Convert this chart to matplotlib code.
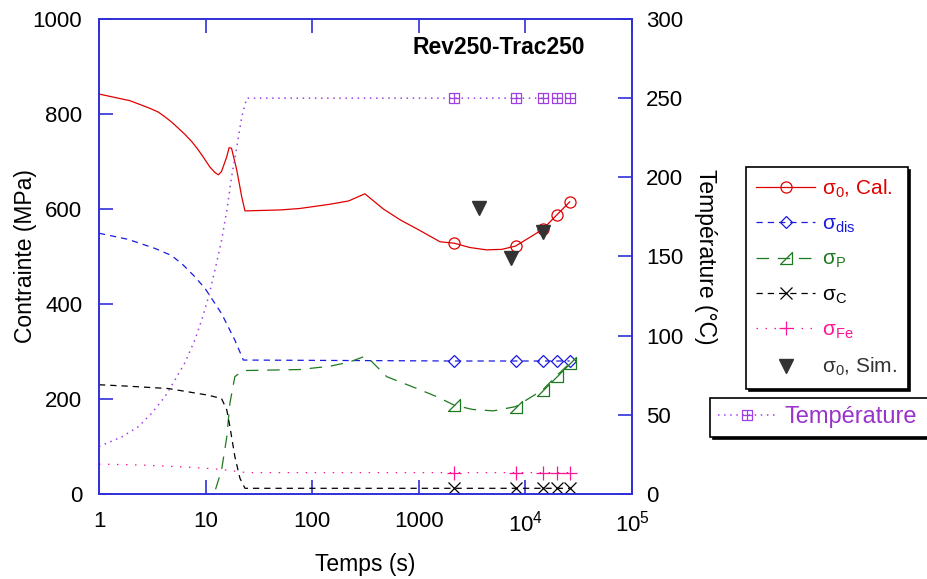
import numpy as np
import matplotlib.pyplot as plt
from matplotlib.path import Path
from matplotlib.ticker import FixedLocator, FixedFormatter

plt.rcParams['font.family'] = ['Liberation Sans', 'DejaVu Sans']
plt.rcParams['mathtext.fontset'] = 'custom'
plt.rcParams['mathtext.rm'] = 'Liberation Sans'
plt.rcParams['mathtext.it'] = 'Liberation Sans'

# temps des marqueurs
t_mk = [2150, 8100, 14500, 19600, 26000]

# sigma_0 calcule
t_cal = [1, 1.95, 3.0, 3.6, 4.16, 4.8, 5.55, 6.4, 7.4, 8.3, 9.2, 11.0, 12.2, 13.2, 14.1, 15.8, 16.6, 17.5,
         19.6, 21.8, 23.4, 50, 76, 147, 220, 312, 465, 670, 1000, 1580, 2150, 3000, 4300, 6000, 8100,
         14500, 19600, 26000]
s_cal = [842, 828, 812, 804, 794, 783, 770, 757, 742, 728, 714, 688, 677, 672, 679, 710, 729, 728,
         682, 626, 596, 598, 601, 610, 617, 632, 600, 577, 556, 531, 528, 519, 514, 515, 522,
         557, 587, 615]

# sigma_dis
t_dis = [1, 1.88, 3.35, 4.8, 6.17, 7.8, 9.87, 14.1, 18.8, 22.6] + t_mk
s_dis = [549, 536, 517, 502, 482, 459, 433, 380, 324, 282, 280, 280, 280, 280, 280]

# sigma_P
t_p = [12.4, 14.1, 15.8, 16.9, 18.8, 21.8, 24.3, 76, 147, 225, 312, 350, 500, 960, 1470,
       2150, 3200, 5000, 8100, 14500, 19600, 26000]
s_p = [10, 50, 120, 191, 247, 258, 260, 262, 269, 278, 290, 282, 247, 222, 205,
       187, 178, 175, 184, 219, 249, 275]

# sigma_C
t_c = [1, 1.88, 4.47, 10.6, 14.1, 15.8, 16.9, 18.8, 21, 23.4] + t_mk
s_c = [230, 227, 222, 208, 201, 177, 142, 79, 33, 12, 12, 12, 12, 12, 12]

# sigma_Fe
t_fe = [1, 2.5, 7.65, 13.6, 24.3] + t_mk
s_fe = [63, 61, 56, 52, 45, 45, 45, 45, 45, 45]

# sigma_0 simule
t_sim = [3660, 7300, 14600]
s_sim = [602, 497, 552]

# temperature
t_T = [1, 1.63, 2.34, 3.12, 4.16, 5.16, 6.4, 7.9, 9.2, 10.6, 12.1, 14.1, 15.8, 17.5, 19.6, 21.8, 24.3] + t_mk
T = [30, 36, 42.5, 51, 61.5, 72, 83, 97, 110, 124, 140, 160, 179, 200, 219, 238, 250,
     250, 250, 250, 250, 250]

xticks = [1, 10, 100, 1000, 1e4, 1e5]
xlabels = ['1', '10', '100', '1000', '10$^4$', '10$^5$']

red = '#e00000'
blue = '#1a1ae0'
green = '#1e7a1e'
pink = '#ff1493'
purple = '#a040e0'
simc = '#333333'
axc = '#3030d8'

tri = Path([(-1, -1), (1, -1), (1, 1), (-1, -1)], [Path.MOVETO, Path.LINETO, Path.LINETO, Path.CLOSEPOLY])
boxplus = Path([(-1, -1), (1, -1), (1, 1), (-1, 1), (-1, -1), (0, -1), (0, 1), (-1, 0), (1, 0)],
               [Path.MOVETO, Path.LINETO, Path.LINETO, Path.LINETO, Path.LINETO,
                Path.MOVETO, Path.LINETO, Path.MOVETO, Path.LINETO])

def mk(t):
    return [t.index(m) for m in t_mk]

fig = plt.figure(figsize=(9.27, 5.79), dpi=100)
ax = fig.add_axes([0.1068, 0.1468, 0.575, 0.8204])
ax2 = ax.twinx()

lw = 0.9
h = []
h += ax.plot(t_cal, s_cal, '-', color=red, lw=lw, marker='o', ms=8, mfc='none', mew=0.9,
             markevery=mk(t_cal), label='σ$_0$, Cal.')
h += ax.plot(t_dis, s_dis, color=blue, lw=lw, ls=(0, (5, 4)), marker='D', ms=6.5, mfc='none', mew=0.9,
             markevery=mk(t_dis), label='σ$_\\mathrm{dis}$')
h += ax.plot(t_p, s_p, color=green, lw=lw, ls=(0, (10, 7)), marker=tri, ms=9, mfc='none', mew=0.9,
             markevery=mk(t_p), label='σ$_\\mathrm{P}$')
h += ax.plot(t_c, s_c, color='black', lw=lw, ls=(0, (5, 4)), marker='x', ms=8, mew=0.9,
             markevery=mk(t_c), label='σ$_\\mathrm{C}$')
h += ax.plot(t_fe, s_fe, color=pink, lw=lw, ls=(0, (1.2, 6)), marker='+', ms=10, mew=0.9,
             markevery=mk(t_fe), label='σ$_\\mathrm{Fe}$')
h += ax.plot(t_sim, s_sim, ls='none', marker='v', ms=10, color=simc, label='σ$_0$, Sim.')
hT = ax2.plot(t_T, T, color=purple, lw=1.1, ls=(0, (1, 3)), marker=boxplus, ms=7, mfc='none', mew=0.9,
              markevery=mk(t_T), label='Température')

ax.set_xscale('log')
ax.set_xlim(1, 1e5)
ax.set_ylim(0, 1000)
ax2.set_ylim(0, 300)
ax.xaxis.set_major_locator(FixedLocator(xticks))
ax.xaxis.set_major_formatter(FixedFormatter(xlabels))
ax.xaxis.set_minor_locator(FixedLocator([]))
ax.set_yticks(np.arange(0, 1001, 200))
ax2.set_yticks(np.arange(0, 301, 50))

for a in (ax, ax2):
    for s in a.spines.values():
        s.set_color(axc)
        s.set_linewidth(1.2)
    a.tick_params(which='both', direction='in', length=10, width=1.2, color=axc,
                  labelsize=16, pad=12)
ax.tick_params(axis='x', top=True)
ax2.tick_params(axis='y', pad=10)

ax.set_xlabel('Temps (s)', fontsize=16.5, labelpad=12)
ax.set_ylabel('Contrainte (MPa)', fontsize=16.5, labelpad=-3)
ax2.set_ylabel('Température (°C)', fontsize=16.5, rotation=270, labelpad=24)

ax.text(0.912, 0.941, 'Rev250-Trac250', transform=ax.transAxes, ha='right', va='center',
        fontsize=16.5, fontweight='bold')

leg = fig.legend(h, [l.get_label() for l in h], loc='upper left',
                 bbox_to_anchor=(746 / 927, 1 - 167 / 579), fontsize=15, numpoints=1,
                 handlelength=2.8, handletextpad=0.35, labelspacing=0.72, fancybox=False,
                 shadow={'color': 'black', 'alpha': 1}, borderpad=0.5, borderaxespad=0,
                 framealpha=1)
leg.get_frame().set_edgecolor('black')
leg.get_frame().set_linewidth(1.2)
for txt, c in zip(leg.get_texts(), [red, blue, green, 'black', pink, simc]):
    txt.set_color(c)

# second cadre, coupe par le bord droit comme dans l'original
leg2 = fig.legend(hT, ['Température'], loc='upper left',
                  bbox_to_anchor=(710 / 927, 1 - 398 / 579, 240 / 927, 0), mode='expand',
                  fontsize=17, numpoints=1, handlelength=2.4, handletextpad=0.4, fancybox=False,
                  shadow={'color': 'black', 'alpha': 1}, borderpad=0.35, borderaxespad=0,
                  framealpha=1)
leg2.get_frame().set_edgecolor('black')
leg2.get_frame().set_linewidth(1.2)
leg2.get_texts()[0].set_color('#9933cc')

fig.savefig('out.png', dpi=100)
